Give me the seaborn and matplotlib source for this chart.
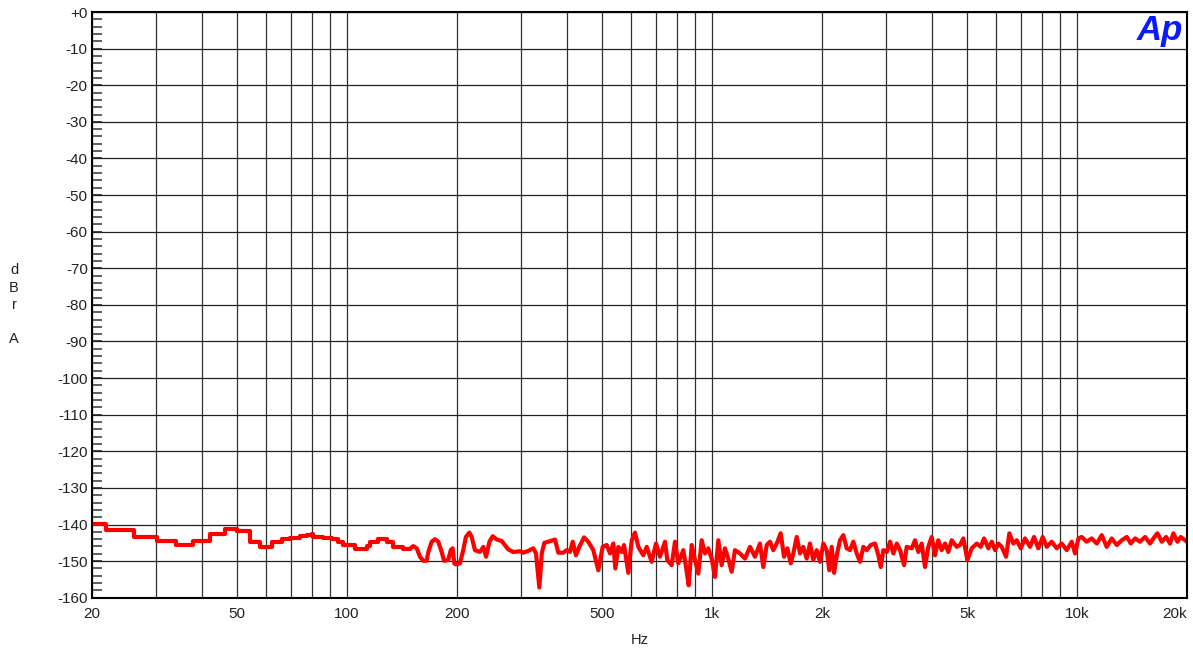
import matplotlib
matplotlib.use('Agg')
import numpy as np
import pandas as pd
import matplotlib.pyplot as plt
from matplotlib.ticker import FixedLocator, FixedFormatter, LogLocator, NullFormatter, MultipleLocator
import seaborn as sns

# low end of the FFT: one level per bin, drawn as steps
step_freq = [20.0, 21.9, 26.0, 30.1, 34.0, 37.9, 42.1, 46.3, 50.0, 54.2,
             57.7, 62.2, 66.3, 69.7, 74.3, 77.5, 80.0, 80.6, 85.9, 90.7,
             94.6, 97.5, 105.1, 113.1, 115.5, 121.5, 128.4, 133.6, 142.3, 148.7]
step_level = [-139.9, -141.5, -143.4, -144.5, -145.6, -144.5, -142.5, -141.3, -141.8, -144.7,
              -146.1, -144.9, -144.0, -143.8, -143.2, -142.9, -142.6, -143.4, -143.7, -144.0,
              -144.9, -145.6, -146.8, -146.0, -144.7, -143.9, -144.7, -146.1, -146.6, -146.6]

# rest of the band
line_freq = [148.7, 151.8, 155.1, 158.4, 161.7, 165.2, 166.9, 170.5, 174.1, 177.7,
             181.6, 184.3, 189.3, 192.2, 194.6, 196.6, 198.7, 203.8, 208.0, 211.6,
             216.2, 219.4, 224.0, 231.2, 236.2, 240.2, 245.4, 250.6, 257.0, 265.2,
             276.4, 285.4, 297.6, 303.8, 313.6, 323.6, 329.2, 336.2, 341.4, 347.0,
             355.8, 371.2, 379.0, 391.0, 399.6, 408.0, 415.0, 423.6, 432.6, 445.6,
             457.8, 472.6, 487.6, 501.4, 514.2, 525.2, 536.2, 543.0, 553.4, 565.4,
             573.6, 589.4, 602.2, 614.8, 627.8, 647.8, 661.8, 683.0, 701.8, 719.6,
             742.8, 753.6, 774.8, 791.2, 807.8, 833.8, 848.0, 862.6, 879.0, 897.6,
             916.4, 936.2, 956.0, 976.0, 997.2, 1018, 1040, 1062, 1084, 1107,
             1131, 1155, 1192, 1230, 1270, 1310, 1352, 1381, 1411, 1441,
             1471, 1503, 1541, 1574, 1607, 1642, 1669, 1705, 1741, 1777,
             1816, 1854, 1893, 1934, 1975, 2017, 2060, 2094, 2126, 2158,
             2195, 2240, 2288, 2337, 2386, 2437, 2490, 2542, 2596, 2652,
             2719, 2794, 2853, 2897, 2945, 3009, 3072, 3137, 3205, 3272,
             3356, 3413, 3522, 3596, 3671, 3751, 3830, 3910, 3995, 4079,
             4164, 4255, 4346, 4437, 4533, 4678, 4778, 4878, 5003, 5143,
             5308, 5444, 5559, 5712, 5836, 5957, 6082, 6214, 6385, 6520,
             6686, 6831, 7006, 7198, 7430, 7618, 7827, 8048, 8252, 8518,
             8791, 9073, 9364, 9664, 9870, 10080, 10290, 10620, 10960, 11320,
             11680, 12050, 12440, 12840, 13250, 13680, 14030, 14410, 14870, 15350,
             15840, 16180, 16590, 17060, 17530, 17970, 18350, 18820, 19220, 19750,
             20000]
line_level = [-146.6, -145.9, -146.5, -148.8, -149.9, -149.9, -147.5, -144.7, -144.0, -144.7,
              -147.5, -149.9, -149.7, -147.0, -146.5, -150.6, -150.9, -150.6, -147.0, -143.4,
              -142.2, -143.4, -147.0, -147.5, -146.1, -148.8, -144.7, -143.2, -144.1, -144.5,
              -146.8, -147.5, -147.3, -147.7, -147.2, -146.5, -147.9, -157.2, -147.9, -145.0,
              -144.7, -144.1, -147.7, -147.7, -147.0, -147.5, -144.7, -148.4, -146.1, -143.5,
              -144.7, -147.0, -152.5, -146.1, -145.6, -147.9, -145.2, -152.0, -146.1, -147.5,
              -145.6, -153.2, -144.3, -142.2, -146.1, -148.4, -146.1, -150.2, -145.2, -148.8,
              -144.7, -149.7, -151.1, -144.7, -150.6, -147.0, -151.6, -156.6, -145.6, -149.7,
              -153.4, -144.3, -147.9, -146.5, -149.3, -154.3, -144.3, -151.1, -146.5, -149.3,
              -152.9, -147.0, -147.9, -149.3, -146.1, -148.8, -145.2, -151.6, -145.6, -144.7,
              -147.0, -145.2, -142.4, -148.8, -146.5, -150.6, -147.9, -143.4, -147.9, -146.1,
              -149.3, -145.2, -149.7, -147.0, -150.2, -145.2, -147.0, -152.5, -146.1, -153.2,
              -148.4, -144.3, -142.9, -146.5, -147.0, -144.7, -147.9, -150.2, -146.1, -147.0,
              -145.6, -145.2, -148.4, -151.6, -147.0, -147.5, -144.7, -147.9, -145.2, -147.0,
              -151.1, -146.1, -146.5, -144.3, -147.5, -145.2, -151.6, -146.1, -143.4, -148.4,
              -144.3, -147.0, -145.2, -147.5, -144.3, -146.1, -145.6, -143.8, -149.7, -146.5,
              -145.2, -146.1, -143.8, -146.5, -144.7, -147.0, -145.2, -146.1, -148.8, -142.4,
              -145.2, -144.3, -146.5, -143.8, -146.1, -143.4, -146.5, -143.4, -146.1, -144.7,
              -146.5, -145.2, -147.0, -144.7, -147.9, -143.8, -143.4, -144.7, -143.8, -145.2,
              -142.9, -146.1, -143.8, -145.6, -144.3, -143.4, -145.2, -143.8, -144.7, -143.4,
              -145.2, -143.8, -142.4, -144.7, -143.4, -145.2, -142.4, -144.7, -143.4, -144.3,
              -144.7]

x_ticks = [20, 50, 100, 200, 500, 1000, 2000, 5000, 10000, 20000]
x_tick_labels = ['20', '50', '100', '200', '500', '1k', '2k', '5k', '10k', '20k']
y_ticks = list(range(0, -170, -10))
y_tick_labels = ['+0'] + [str(v) for v in y_ticks[1:]]

assert len(step_freq) == len(step_level)
assert len(line_freq) == len(line_level)

df_step = pd.DataFrame({'Hz': step_freq, 'dBr': step_level})
df_line = pd.DataFrame({'Hz': line_freq, 'dBr': line_level})

sns.set_style("white")
plt.rcParams['font.family'] = ['Liberation Sans', 'DejaVu Sans']

fig = plt.figure(figsize=(11.93, 6.49), dpi=100)
ax = fig.add_axes([0.0771, 0.0790, 0.9179, 0.9025])
ax.set_xscale('log')

sns.lineplot(data=df_step, x='Hz', y='dBr', ax=ax, color='#ff0000', lw=3.0,
             drawstyle='steps-post', estimator=None, sort=False)
sns.lineplot(data=df_line, x='Hz', y='dBr', ax=ax, color='#ff0000', lw=3.0,
             estimator=None, sort=False)

ax.set_xlim(20, 20000)
ax.set_ylim(-160, 0)

ax.xaxis.set_major_locator(FixedLocator(x_ticks))
ax.xaxis.set_major_formatter(FixedFormatter(x_tick_labels))
ax.xaxis.set_minor_locator(LogLocator(base=10, subs=np.arange(1, 10)))
ax.xaxis.set_minor_formatter(NullFormatter())
ax.yaxis.set_major_locator(FixedLocator(y_ticks))
ax.yaxis.set_major_formatter(FixedFormatter(y_tick_labels))
ax.yaxis.set_minor_locator(MultipleLocator(2))

ax.grid(which='both', axis='x', color='#303030', lw=0.9)
ax.grid(which='major', axis='y', color='#202020', lw=0.9)

ax.tick_params(axis='x', which='both', bottom=True, length=0, pad=7, labelsize=11,
               labelcolor='#222222')
ax.tick_params(axis='y', which='both', left=True, right=False)
ax.tick_params(axis='y', which='major', direction='in', length=7, width=1.2, color='#222222',
               pad=3, labelsize=11, labelcolor='#222222')
ax.tick_params(axis='y', which='minor', direction='in', length=7, width=1.2, color='#444444')

# last frequency label sits inside the frame, like the reference
xlabels = ax.get_xticklabels()
xlabels[-1].set_horizontalalignment('right')

for side in ['left', 'bottom', 'top', 'right']:
    ax.spines[side].set_visible(True)
    ax.spines[side].set_color('black')
    ax.spines[side].set_linewidth(1.5)

ax.set_xlabel('Hz', fontsize=10.5, color='#222222', labelpad=8)
ax.set_ylabel('d\nB\nr\n\nA', fontsize=10.5, color='#222222', rotation=0,
              ha='center', va='center', linespacing=1.3)
ax.yaxis.set_label_coords(-0.0712, 0.5)

ax.text(0.9963, 0.9530, 'Ap', transform=ax.transAxes, ha='right', va='baseline',
        fontsize=25, fontweight='bold', fontstyle='italic', color='#0a1cff')

fig.savefig('out.png', dpi=100)
plt.close(fig)
